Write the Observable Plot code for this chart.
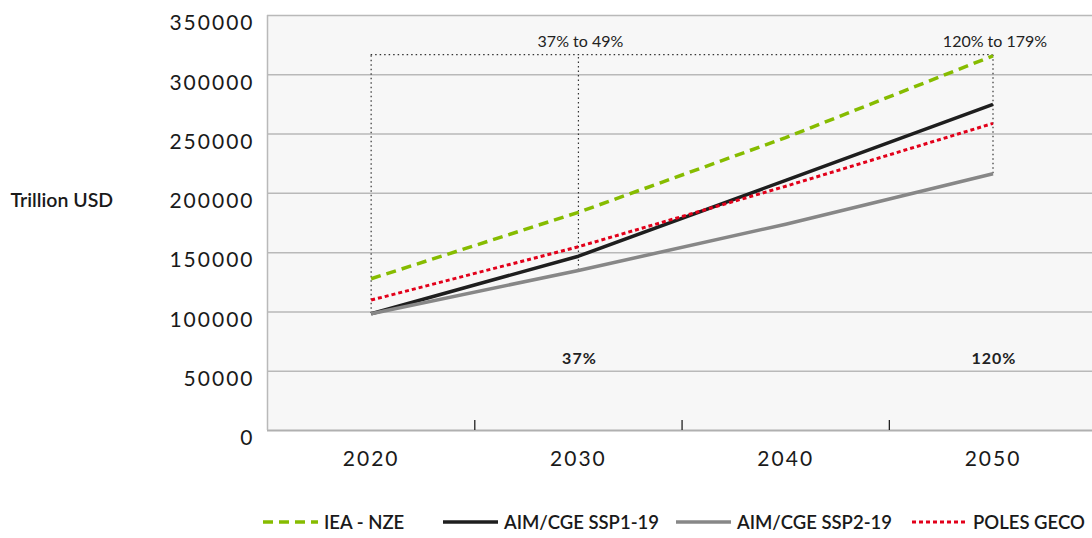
<!DOCTYPE html>
<html>
<head>
<meta charset="utf-8">
<script src="https://cdn.jsdelivr.net/npm/d3@7"></script>
<script src="https://cdn.jsdelivr.net/npm/@observablehq/plot@0.6"></script>
<style>
  html, body { margin: 0; padding: 0; background: #fff; }
  #chart { position: relative; width: 1092px; height: 538px; overflow: hidden; font-family: Lato, "Noto Sans", sans-serif; }
  #legend { position: absolute; left: 0; top: 505px; width: 1092px; height: 33px; }
  .item { position: absolute; top: 0; height: 33px; display: flex; align-items: center; gap: 6px; font-size: 18.5px; font-weight: 600; color: #1a1a1a; white-space: nowrap; }
  .num text { letter-spacing: 2px; }
  .pct text { letter-spacing: 1px; }
</style>
</head>
<body>
<div id="chart"><div id="legend"></div></div>
<script>
// ---- data ----
const years = [2020, 2030, 2040, 2050];
const ieaNze = [128000, 184000, 247000, 316000];
const aimSsp119 = [98500, 147000, 211000, 275000];
const aimSsp219 = [98500, 135000, 174000, 216500];
const polesGeco = [110000, 155000, 206000, 259000];

const seriesNames = ["IEA - NZE", "AIM/CGE SSP1-19", "AIM/CGE SSP2-19", "POLES GECO"];
const seriesColors = ["#86bc00", "#1e1e1e", "#878787", "#e2001a"];
const seriesDash = ["10,6", null, null, "4,3"];
const seriesWidth = [3.5, 3.5, 3.5, 3];

const yTicks = [0, 50000, 100000, 150000, 200000, 250000, 300000, 350000];
const xLabelTicks = [2020, 2030, 2040, 2050];
const xMarkTicks = [2025, 2035, 2045];

// annotation values
const spanTop = 317000;
const rangeLabels = [{x: 2030, text: "37% to 49%"}, {x: 2050, text: "120% to 179%"}];
const minLabels = [{x: 2030, text: "37%"}, {x: 2050, text: "120%"}];
const vLines = [{x: 2020, lo: 98500}, {x: 2030, lo: 135000}, {x: 2050, lo: 216500}];

const allSeries = [ieaNze, aimSsp119, aimSsp219, polesGeco];
const table = allSeries.map((vals, i) => years.map((yr, j) => ({series: seriesNames[i], year: yr, value: vals[j]})));

const lineMarks = table.map((rows, i) => Plot.line(rows, {
  x: "year", y: "value", stroke: seriesColors[i], strokeWidth: seriesWidth[i],
  strokeDasharray: seriesDash[i] ?? undefined, strokeLinecap: "butt", strokeLinejoin: "round"
}));

const chart = Plot.plot({
  width: 1092,
  height: 505,
  marginTop: 15,
  marginBottom: 75,
  marginLeft: 267,
  marginRight: 0,
  style: {fontFamily: "Lato, 'Noto Sans', sans-serif", color: "#1a1a1a", background: "transparent"},
  x: {domain: [2015, 2054.8]},
  y: {domain: [0, 350000]},
  marks: [
    Plot.frame({fill: "#f7f7f7", stroke: null}),
    Plot.gridY(yTicks.slice(1, -1), {stroke: "#b9b9b9", strokeOpacity: 1, strokeWidth: 1.5}),
    Plot.ruleY([350000], {stroke: "#b9b9b9", strokeWidth: 1.5}),
    Plot.ruleY([0], {stroke: "#b0b0b0", strokeWidth: 2}),
    Plot.ruleX([2015], {stroke: "#b9b9b9", strokeWidth: 1.5}),
    Plot.axisX(xMarkTicks, {tickSize: -10, tickFormat: () => "", stroke: "#222", strokeWidth: 1.3}),
    Plot.axisX(xLabelTicks, {tickSize: 0, tickPadding: 21, fontSize: 21, tickFormat: d3.format("d"), className: "num"}),
    Plot.axisY(yTicks, {tickSize: 0, tickPadding: 13, dy: 8, fontSize: 21, tickFormat: d3.format("d"), className: "num"}),
    Plot.text(["Trillion USD"], {x: 2015, y: 194000, dx: -257, text: d => d, textAnchor: "start", fontSize: 19.5, fontWeight: 600}),
    // dotted annotation bracket
    Plot.ruleY([spanTop], {x1: 2020, x2: 2050, stroke: "#333", strokeWidth: 1.2, strokeDasharray: "1.5,3"}),
    Plot.ruleX(vLines, {x: "x", y1: "lo", y2: spanTop, stroke: "#333", strokeWidth: 1.2, strokeDasharray: "1.5,3"}),
    ...lineMarks,
    Plot.text(rangeLabels, {x: "x", y: 328000, text: "text", fontSize: 16, fill: "#222", dx: 2}),
    Plot.text(minLabels, {x: "x", y: 60700, text: "text", fontSize: 16, fontWeight: 700, fill: "#222", dx: 1, className: "pct"})
  ]
});
document.getElementById("chart").insertBefore(chart, document.getElementById("legend"));

// ---- legend ----
const legendLeft = [263, 443, 676, 912];
const legend = document.getElementById("legend");
seriesNames.forEach((name, i) => {
  const item = document.createElement("div");
  item.className = "item";
  item.style.left = legendLeft[i] + "px";
  const dash = seriesDash[i] ? `stroke-dasharray="${seriesDash[i]}"` : "";
  item.innerHTML = `<svg width="55" height="10"><line x1="0" y1="5" x2="55" y2="5" stroke="${seriesColors[i]}" stroke-width="${seriesWidth[i]}" ${dash}/></svg><span>${name}</span>`;
  legend.appendChild(item);
});
</script>
</body>
</html>
